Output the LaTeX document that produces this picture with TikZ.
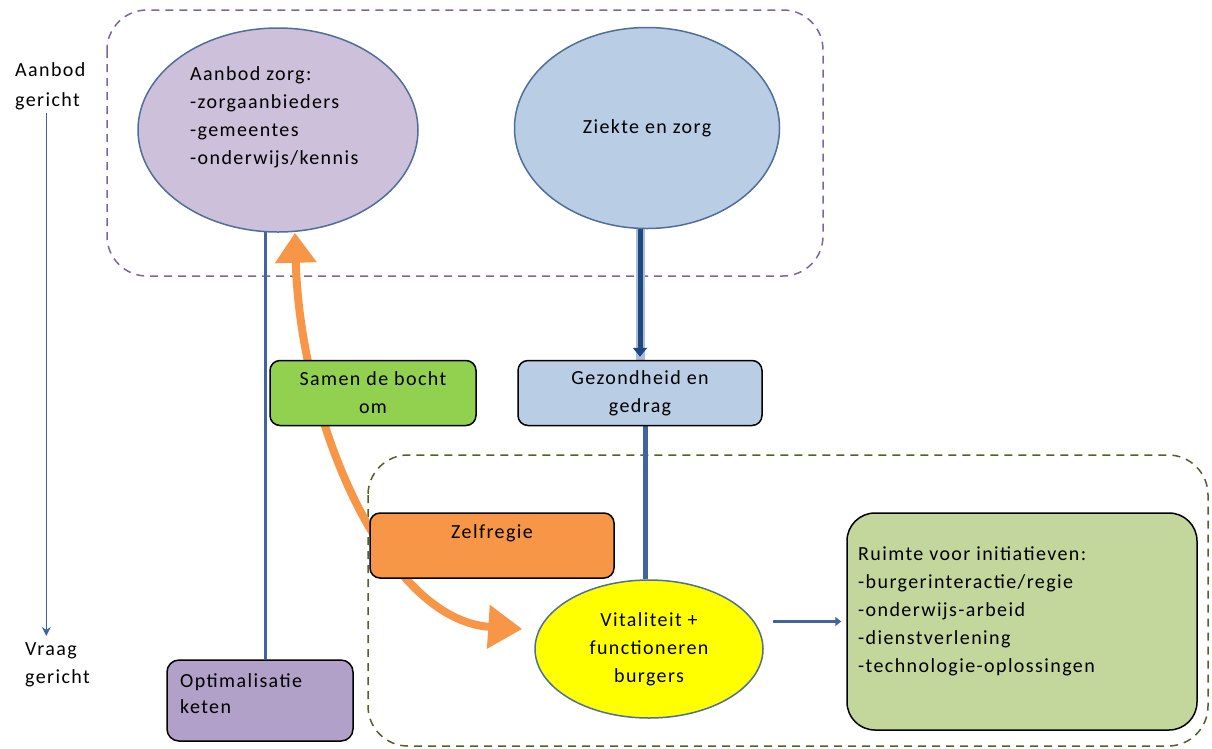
\documentclass[tikz,border=0pt]{standalone}
\usepackage{fontspec}
\setmainfont{Carlito}[LetterSpace=7]
\usetikzlibrary{arrows.meta,shapes.geometric}
\definecolor{lav}{HTML}{CCC0DA}
\definecolor{lblue}{HTML}{B9CDE5}
\definecolor{edgeblue}{HTML}{4F6E9A}
\definecolor{navy}{HTML}{1F497D}
\definecolor{halo}{HTML}{A8BEDC}
\definecolor{dashpurple}{HTML}{8064A2}
\definecolor{dashgreen}{HTML}{4F6228}
\definecolor{samen}{HTML}{92D050}
\definecolor{zelf}{HTML}{F79646}
\definecolor{ruimte}{HTML}{C3D69B}
\definecolor{optim}{HTML}{B1A0C7}
\definecolor{yel}{HTML}{FFFF00}
\definecolor{lineblue}{HTML}{3F64A0}
\pgfdeclarelayer{bg}
\pgfsetlayers{bg,main}
\begin{document}
\begin{tikzpicture}[x=1pt,y=-1pt,
  every node/.style={font=\fontsize{20}{28}\selectfont, inner sep=0pt},
  oval/.style={ellipse, draw=edgeblue, line width=1.5pt},
  stepbox/.style={draw=black, line width=1.5pt, rounded corners=10pt, align=center},
  txt/.style={align=left},
  group/.style={dashed, dash pattern=on 8pt off 6pt, line width=1.5pt, rounded corners=40pt},
  conn/.style={lineblue, line width=3pt}
]
\useasboundingbox (0,0) rectangle (1212,748);

% nodes
\node[oval, fill=lav, minimum width=280pt, minimum height=204pt] (aanbod) at (278,130) {};
\node[txt, anchor=north west] (aanbodtxt) at (190,66) {Aanbod zorg:\\-zorgaanbieders\\-gemeentes\\-onderwijs/kennis};
\node[oval, fill=lblue, minimum width=265pt, minimum height=201pt] (ziekte) at (647,128) {Ziekte en zorg};
\node[stepbox, fill=lblue, minimum width=244pt, minimum height=65pt] (gez) at (640,393) {Gezondheid en\\gedrag};
\node[stepbox, fill=samen, minimum width=206pt, minimum height=65pt] (samen) at (373,393) {Samen de bocht\\om};
\node[stepbox, fill=zelf, minimum width=244pt, minimum height=65pt] (zelf) at (492,545.5) {};
\node[anchor=north] (zelftxt) at ([yshift=-12pt]zelf.north) {Zelfregie};
\node[oval, fill=yel, minimum width=228pt, minimum height=138pt, align=center] (vital) at (649,649) {Vitaliteit +\\functioneren\\burgers};
\node[stepbox, fill=ruimte, rounded corners=28pt, minimum width=350pt, minimum height=217pt] (ruimte) at (1022,621.5) {};
\node[txt, anchor=north west] (ruimtetxt) at (858,546) {Ruimte voor initiatieven:\\-burgerinteractie/regie\\-onderwijs-arbeid\\-dienstverlening\\-technologie-oplossingen};
\node[stepbox, fill=optim, rounded corners=12pt, minimum width=186pt, minimum height=81pt] (optim) at (260,700.5) {};
\node[txt, anchor=north west, font=\fontsize{20}{26}\selectfont] (optimtxt) at (180,673) {Optimalisatie\\keten};
\node[txt, anchor=north west, font=\fontsize{20}{30}\selectfont] (ag) at (15,62) {Aanbod\\gericht};
\node[txt, anchor=north west] (vg) at (25,642) {Vraag\\gericht};

\begin{pgfonlayer}{bg}
\draw[group, dashpurple] (107,10) rectangle (823,276);
\draw[group, dashgreen] (368,455) rectangle (1208,746);
% left axis arrow
\draw[lineblue, line width=1.5pt, shorten <=3pt, shorten >=6pt, -{Stealth[length=9pt,width=9pt]}]
  ([xshift=-4pt]ag.south) -- ([xshift=-4pt]ag.south |- vg.north);
% orange double arrow
\coordinate (otop) at ([xshift=17pt]aanbod.south);
\coordinate (obot) at ([shift={(-12pt,20pt)}]vital.west);
\draw[zelf, line width=8pt, {Triangle[width=40pt,length=30pt]}-{Triangle[width=42pt,length=34pt]}]
  (otop) .. controls (300,420) and (385,620) .. (obot);
% thick navy arrow
\coordinate (zbot) at (gez.north |- ziekte.south);
\draw[halo, line width=9pt] (zbot) -- ([yshift=-12pt]gez.north);
\draw[navy, line width=5pt, shorten >=3pt, -{Triangle[width=14pt,length=9pt]}] (zbot) -- (gez.north);
% gez to vital
\coordinate (gzs) at ([xshift=5pt]gez.south);
\draw[lineblue, line width=5pt] (gzs) -- (gzs |- vital.north);
% vital to ruimte
\draw[conn, shorten <=9pt, shorten >=5pt, -{Triangle[width=9pt,length=6pt]}] (vital.east |- ruimte.west) -- (ruimte.west);
% optim to aanbod
\coordinate (opt) at ([xshift=5pt]optim.north);
\draw[conn] (opt) -- ([yshift=8pt]opt |- aanbod.south);
\end{pgfonlayer}
\end{tikzpicture}
\end{document}
